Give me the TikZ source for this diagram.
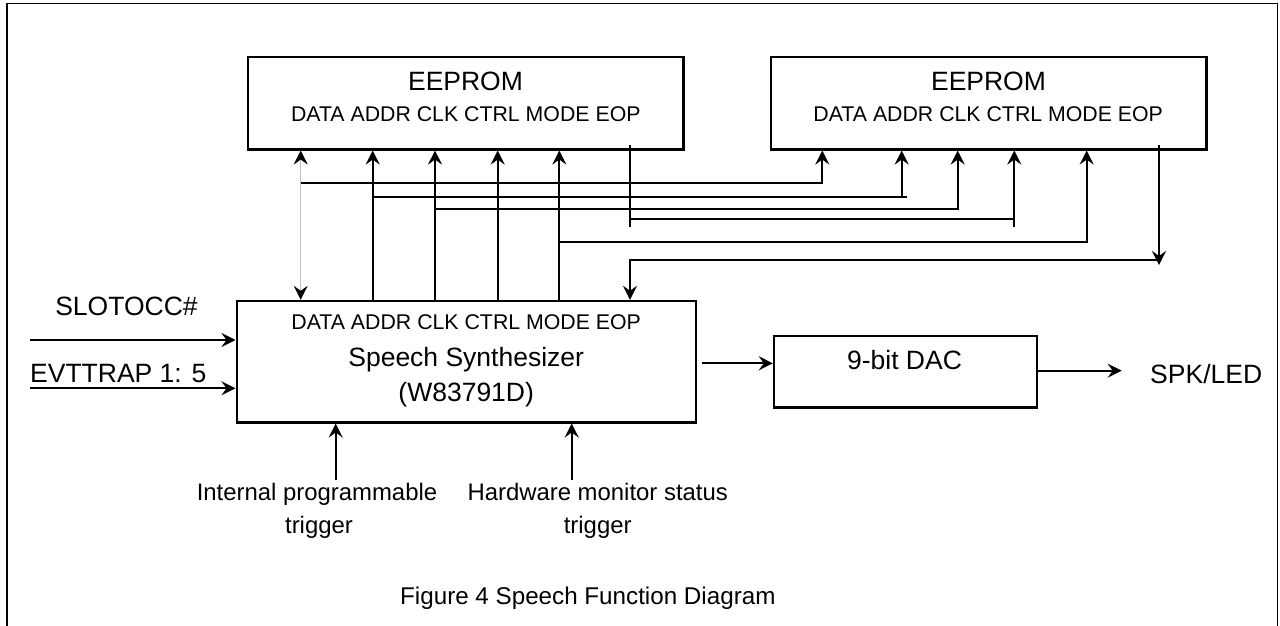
\documentclass[tikz,border=0pt]{standalone}
\usepackage{fontspec}
\setmainfont{Liberation Sans}
\usetikzlibrary{arrows.meta}
\begin{document}
\begin{tikzpicture}[x=1pt,y=-1pt,
  box/.style={draw, line width=2.4pt, inner sep=0pt},
  wire/.style={line width=2.3pt},
  thinwire/.style={line width=1.5pt},
  grayline/.style={line width=0.9pt, draw=black!25},
  arr/.style={-{Stealth[length=14pt,width=14pt,inset=5pt,color=black]}},
  darr/.style={{Stealth[length=14pt,width=14pt,inset=5pt,color=black]}-{Stealth[length=14pt,width=14pt,inset=5pt,color=black]}},
  frame/.style={line width=1.6pt},
  big/.style={font=\fontsize{26.5}{30}\selectfont, anchor=base, inner sep=0pt},
  pin/.style={font=\fontsize{21.3}{24}\selectfont, anchor=base, inner sep=0pt},
  small/.style={font=\fontsize{23.9}{33.3}\selectfont, anchor=base, inner sep=0pt},
  captext/.style={font=\fontsize{24.2}{28}\selectfont, anchor=base west, inner sep=0pt}]
\useasboundingbox (0,0) rectangle (1280,626);
% outer frame (bottom edge outside the picture)
\draw[frame] (6.7,640) -- (6.7,3.5) -- (1277.5,3.5) -- (1277.5,640);

% boxes
\node[box, minimum width=435.6pt, minimum height=92.3pt] (e1) at (465.5,103.2) {};
\node[box, minimum width=435.6pt, minimum height=92.3pt] (e2) at (988.5,103.2) {};
\node[box, minimum width=459.3pt, minimum height=121.3pt] (syn) at (466.35,361.65) {};
\node[box, minimum width=262.7pt, minimum height=71.3pt] (dac) at (905.35,371.65) {};

% box texts
\node[big] (e1t) at (465.5,90) {EEPROM};
\node[pin] (e1p) at (465.8,121.7) {DATA ADDR CLK CTRL MODE EOP};
\node[big] (e2t) at (988.5,90) {EEPROM};
\node[pin] (e2p) at (988.2,121.7) {DATA ADDR CLK CTRL MODE EOP};
\node[pin] (synp) at (466.2,329) {DATA ADDR CLK CTRL MODE EOP};
\node[big] (synt) at (466.2,366) {Speech Synthesizer};
\node[big] (synm) at (466.2,401.7) {(W83791D)};
\node[big] (dact) at (904.5,369.3) {9-bit DAC};

% outside labels
\node[big] (slot) at (126.5,315) {SLOTOCC\#};
\node[big] (evt) at (118.3,382.7) {EVTTRAP 1: 5};
\node[big] (spk) at (1206.2,383.3) {SPK/LED};
\node[small] (ipt1) at (317,500) {Internal programmable};
\node[small] (ipt2) at (319,533.3) {trigger};
\node[small] (hms1) at (597.7,500) {Hardware monitor status};
\node[small] (hms2) at (597.7,533.3) {trigger};
\node[captext] (capt) at (400,604.3) {Figure 4 Speech Function Diagram};

% pin columns
\coordinate (d1) at (300.7,0);
\coordinate (a1) at (372.7,0);
\coordinate (k1) at (435,0);
\coordinate (c1) at (497.7,0);
\coordinate (m1) at (559.3,0);
\coordinate (p1) at (630,0);
\coordinate (d2) at (822.3,0);
\coordinate (a2) at (901.7,0);
\coordinate (a2x) at (907.3,0);
\coordinate (k2) at (957.7,0);
\coordinate (c2) at (1014.3,0);
\coordinate (m2) at (1086.7,0);
\coordinate (p2) at (1159,0);
% bus levels
\coordinate (yD) at (0,182.7);
\coordinate (yA) at (0,196.7);
\coordinate (yK) at (0,209);
\coordinate (yC) at (0,219);
\coordinate (yE) at (0,226.7);
\coordinate (yM) at (0,242.3);
\coordinate (yR) at (0,260);
\coordinate (yT) at (0,265);
\coordinate (p1top) at (630,145);
\coordinate (p2top) at (1159,145);

% DATA
\draw[grayline, darr] (e1.south -| d1) -- (syn.north -| d1);
\draw[wire, arr] (d1 |- yD) -- (d2 |- yD) -- (e2.south -| d2);
% ADDR
\draw[wire, arr] (syn.north -| a1) -- (e1.south -| a1);
\draw[wire] (a1 |- yA) -- (a2x |- yA);
\draw[wire, arr] (a2 |- yA) -- (e2.south -| a2);
% CLK
\draw[wire, arr] (syn.north -| k1) -- (e1.south -| k1);
\draw[wire, arr] (k1 |- yK) -- (k2 |- yK) -- (e2.south -| k2);
% CTRL
\draw[wire, arr] (syn.north -| c1) -- (e1.south -| c1);
\draw[wire, arr] (c2 |- yE) -- (e2.south -| c2);
% MODE
\draw[wire, arr] (syn.north -| m1) -- (e1.south -| m1);
\draw[wire, arr] (m1 |- yM) -- (m2 |- yM) -- (e2.south -| m2);
% EOP of first EEPROM
\draw[wire] (p1top) -- (p1 |- yE);
\draw[wire] (p1 |- yC) -- (c2 |- yC);
% EOP of second EEPROM
\draw[wire, arr] (p2top) -- (p2 |- yT);
\draw[thinwire, arr] (p2 |- yR) -- (p1 |- yR) -- (syn.north -| p1);

% inputs
\coordinate (slin) at (30,340);
\coordinate (evin) at (30,388.3);
\draw[wire, arr] (slin) -- (syn.west |- slin);
\draw[wire, arr] (evin) -- (syn.west |- evin);
\coordinate (t1) at (335.7,480);
\coordinate (t2) at (571.7,480);
\draw[wire, arr] (t1) -- (syn.south -| t1);
\draw[wire, arr] (t2) -- (syn.south -| t2);

% outputs
\coordinate (so) at (701.7,363.3);
\draw[wire, arr] (so) -- (dac.west |- so);
\coordinate (dout) at (1121.7,370.7);
\draw[wire, arr] (dac.east |- dout) -- (dout);
\end{tikzpicture}
\end{document}
